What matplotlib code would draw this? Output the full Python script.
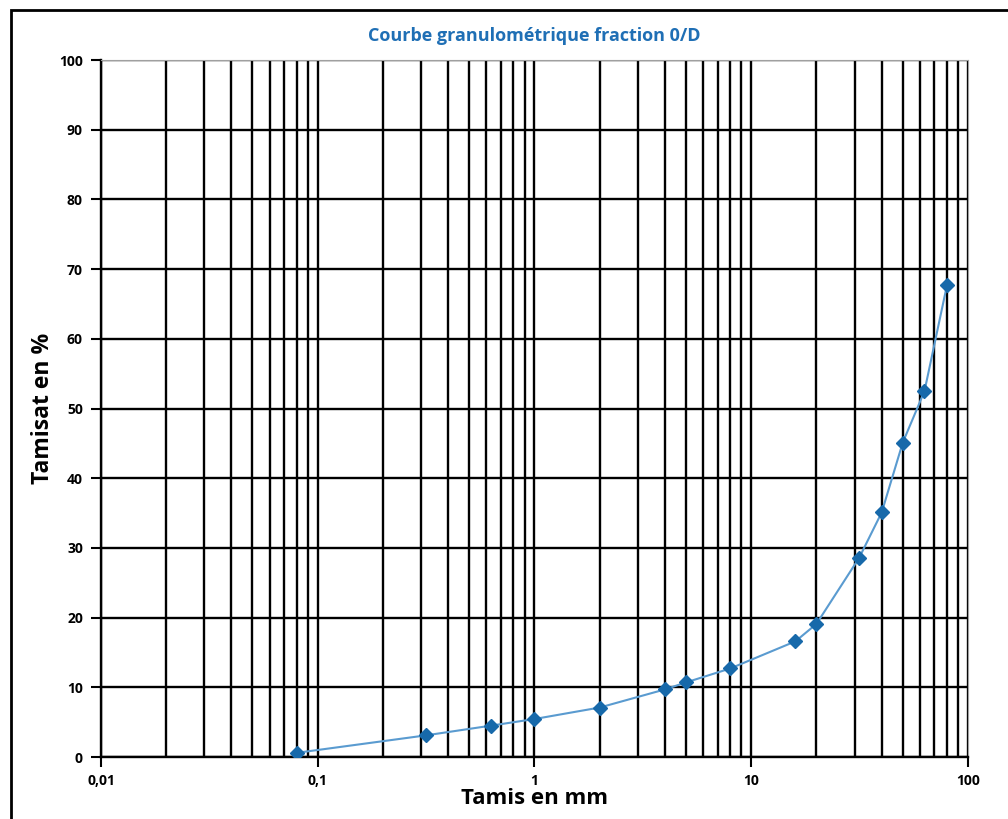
import matplotlib
matplotlib.use('Agg')
import matplotlib.pyplot as plt
from matplotlib import ticker
from matplotlib.patches import Rectangle

# tamis (mm) et tamisat (%)
tamis = [0.08, 0.315, 0.63, 1, 2, 4, 5, 8, 16, 20, 31.5, 40, 50, 63, 80]
tamisat = [0.6, 3.1, 4.5, 5.45, 7.1, 9.7, 10.7, 12.7, 16.6, 19.1, 28.6, 35.1, 45.1, 52.5, 67.7]

plt.rcParams['font.family'] = ['Open Sans', 'DejaVu Sans']
fig = plt.figure(figsize=(10.08, 8.19), dpi=100)
ax = fig.add_axes([0.1002, 0.0757, 0.8601, 0.851])

ax.plot(tamis, tamisat, color='#5a9bd0', linewidth=1.5, marker='D', markersize=7.5,
        markerfacecolor='#1769aa', markeredgecolor='#1769aa', zorder=5)

ax.set_xscale('log')
ax.set_xlim(0.01, 100)
ax.set_ylim(0, 100)
ax.yaxis.set_major_locator(ticker.MultipleLocator(10))
ax.xaxis.set_major_locator(ticker.LogLocator(base=10, numticks=10))
ax.xaxis.set_minor_locator(ticker.LogLocator(base=10, subs=range(2, 10), numticks=20))
ax.xaxis.set_minor_formatter(ticker.NullFormatter())
ax.xaxis.set_major_formatter(ticker.FuncFormatter(
    lambda v, p: ('%g' % v).replace('.', ',')))

ax.grid(True, which='major', axis='both', color='black', linewidth=1.7)
ax.grid(True, which='minor', axis='x', color='black', linewidth=1.7)
ax.set_axisbelow(True)

for s in ['top', 'right']:
    ax.spines[s].set_color('#a0a0a0')
for s in ['left', 'bottom']:
    ax.spines[s].set_color('black')
    ax.spines[s].set_linewidth(1.7)

ax.tick_params(axis='both', which='major', direction='out', length=7, width=1.5,
               labelsize=10, colors='black')
ax.tick_params(axis='x', which='minor', length=0)
for lab in ax.get_xticklabels() + ax.get_yticklabels():
    lab.set_fontweight('bold')
ax.tick_params(axis='y', pad=6)
ax.tick_params(axis='x', pad=5)

ax.set_xlabel('Tamis en mm', fontsize=16, fontweight='bold', labelpad=0)
ax.set_ylabel('Tamisat en %', fontsize=16.5, fontweight='bold', labelpad=3)
ax.set_title('Courbe granulométrique fraction 0/D', fontsize=13, fontweight='bold',
             color='#1f6fb5', pad=14)

fig.patches.append(Rectangle((0.011, -0.1), 1.2, 1.088, transform=fig.transFigure,
                             fill=False, edgecolor='black', linewidth=2))

fig.savefig('out.png', dpi=100)
